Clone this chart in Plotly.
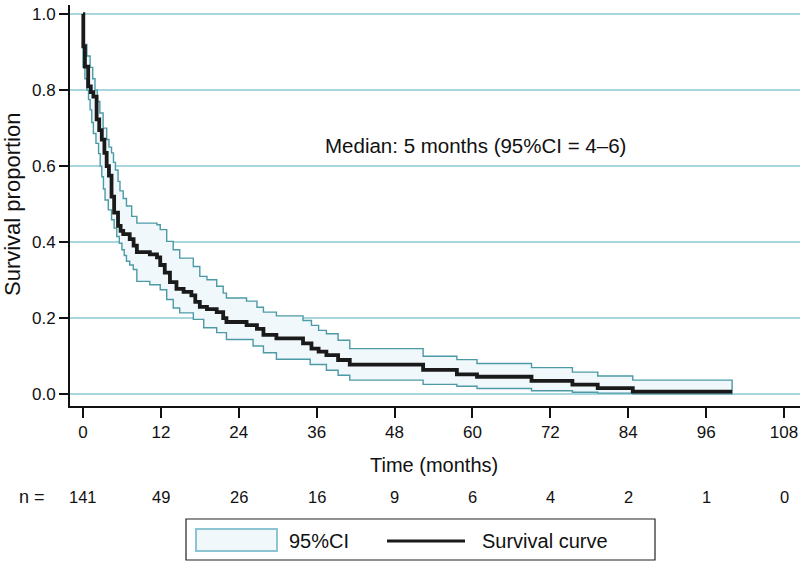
import plotly.graph_objects as go

# ---- data ----
surv_t = [0, 0.05, 0.3, 0.8, 1.2, 1.6, 2.1, 2.5, 2.9, 3.3, 3.65, 4.0, 4.4, 4.8, 5.4, 5.8,
          6.2, 7.2, 7.8, 8.3, 10.3, 11.4, 11.9, 12.6, 13.4, 14.4, 15.5, 16.7, 17.3, 18.0,
          19.1, 20.6, 21.6, 22.1, 25.2, 26.8, 27.8, 29.8, 33.9, 35.2, 36.3, 37.5, 39.3,
          41.1, 52.4, 57.6, 60.7, 69.1, 75.4, 79.3, 84.7, 100]
surv_s = [1.0, 0.915, 0.862, 0.81, 0.795, 0.783, 0.723, 0.695, 0.67, 0.635, 0.60, 0.575,
          0.52, 0.478, 0.443, 0.43, 0.421, 0.408, 0.391, 0.374, 0.368, 0.36, 0.34, 0.32,
          0.295, 0.277, 0.269, 0.26, 0.243, 0.23, 0.224, 0.216, 0.2, 0.19, 0.182, 0.172,
          0.156, 0.147, 0.134, 0.12, 0.112, 0.103, 0.09, 0.078, 0.064, 0.052, 0.046,
          0.035, 0.025, 0.016, 0.007, 0.007]

upper_t = [0, 0.15, 0.6, 1.1, 1.5, 1.85, 2.2, 2.6, 3.1, 3.65, 4.0, 4.4, 4.7, 5.0, 5.4,
           5.7, 6.2, 6.7, 7.5, 8.3, 11.4, 11.9, 12.9, 13.9, 14.9, 17.0, 18.0, 19.1, 20.6,
           21.6, 22.1, 25.2, 26.8, 27.8, 29.8, 33.9, 35.2, 36.3, 37.5, 39.3, 41.1, 52.4,
           57.6, 60.7, 69.1, 75.4, 79.3, 84.7, 100]
upper_s = [0.95, 0.92, 0.89, 0.86, 0.83, 0.80, 0.77, 0.74, 0.70, 0.67, 0.65, 0.635, 0.61,
           0.59, 0.56, 0.535, 0.515, 0.495, 0.468, 0.45, 0.446, 0.433, 0.402, 0.38, 0.358,
           0.336, 0.31, 0.301, 0.284, 0.266, 0.253, 0.245, 0.229, 0.216, 0.206, 0.194,
           0.181, 0.168, 0.159, 0.142, 0.12, 0.1, 0.091, 0.081, 0.07, 0.058, 0.048, 0.037,
           0.037]

lower_t = [0, 0.3, 0.6, 0.85, 1.1, 1.35, 1.6, 2.0, 2.4, 2.65, 2.9, 3.15, 3.4, 3.9, 4.4,
           4.8, 5.2, 5.6, 6.0, 6.35, 6.7, 7.2, 7.75, 8.3, 10.3, 11.9, 12.9, 13.9, 14.9,
           17.0, 18.6, 20.6, 22.1, 26.2, 27.8, 29.8, 35.0, 37.5, 39.3, 41.1, 52.4, 57.6,
           60.7, 69.1, 75.4, 79.3, 84.7, 100]
lower_s = [0.86, 0.83, 0.80, 0.775, 0.748, 0.715, 0.686, 0.66, 0.633, 0.60, 0.572, 0.54,
           0.511, 0.485, 0.459, 0.437, 0.415, 0.397, 0.38, 0.365, 0.35, 0.34, 0.328, 0.297,
           0.288, 0.275, 0.249, 0.227, 0.214, 0.197, 0.175, 0.162, 0.144, 0.127, 0.109,
           0.092, 0.078, 0.063, 0.05, 0.037, 0.026, 0.021, 0.015, 0.009, 0.005, 0.003,
           0.001, 0.001]

tick_months = [0, 12, 24, 36, 48, 60, 72, 84, 96, 108]
n_at_risk = [141, 49, 26, 16, 9, 6, 4, 2, 1, 0]
y_ticks = [0.0, 0.2, 0.4, 0.6, 0.8, 1.0]

# ---- helpers ----
def steps(t, v):
    xs, ys = [t[0]], [v[0]]
    for i in range(1, len(t)):
        xs += [t[i], t[i]]
        ys += [v[i - 1], v[i]]
    return xs, ys

FONT = "Liberation Sans, Arial, sans-serif"
TEAL = "#4c9aa6"
GRID = "#a9d5de"
FILL = "#f1f8fc"
INK = "#111111"

# plot area in pixels: left 70, right 800, top 5, bottom 406
L, R, T, B = 70, 800, 5, 406
def px(x):
    return (x - L) / (R - L)
def py(y):
    return (B - y) / (B - T)

ux, uy = steps(upper_t, upper_s)
lx, ly = steps(lower_t, lower_s)
poly_x = ux + lx[::-1] + [ux[0]]
poly_y = uy + ly[::-1] + [uy[0]]

fig = go.Figure()
fig.add_trace(go.Scatter(x=poly_x, y=poly_y, mode="lines", fill="toself",
                         fillcolor=FILL, line=dict(color=TEAL, width=1.4),
                         hoverinfo="skip", showlegend=False))
fig.add_trace(go.Scatter(x=surv_t, y=surv_s, mode="lines", line_shape="hv",
                         line=dict(color="#1a1a1a", width=3.8), showlegend=False))

def note(x, y, text, size, xref="paper", yref="paper", xanchor="center", angle=0):
    return dict(x=x, y=y, xref=xref, yref=yref, text=text, showarrow=False,
                xanchor=xanchor, yanchor="middle", textangle=angle,
                font=dict(family=FONT, size=size, color=INK))

annotations = [
    note(60.4, 0.655, "Median: 5 months (95%CI = 4\u20136)", 20.5, xref="x", yref="y"),
    note(px(434), py(465), "Time (months)", 20),
    note(px(12), py(205), "Survival proportion", 22, angle=-90),
    note(px(32), py(497), "n =", 18),
    note(px(287), py(541), "95%CI", 20, xanchor="left"),
    note(px(480), py(541), "Survival curve", 20, xanchor="left"),
]
for m, n in zip(tick_months, n_at_risk):
    annotations.append(note(m, py(497), str(n), 16.5, xref="x"))

shapes = [
    dict(type="rect", xref="paper", yref="paper", x0=px(186), x1=px(655),
         y0=py(519), y1=py(560), line=dict(color="#222", width=1.2), fillcolor="white"),
    dict(type="rect", xref="paper", yref="paper", x0=px(196), x1=px(277),
         y0=py(529), y1=py(551), line=dict(color="#8cc5d1", width=2), fillcolor=FILL),
    dict(type="line", xref="paper", yref="paper", x0=px(387), x1=px(465),
         y0=py(541), y1=py(541), line=dict(color="#1a1a1a", width=3)),
]

fig.update_layout(
    width=800, height=561,
    margin=dict(l=L, r=800 - R, t=T, b=561 - B),
    paper_bgcolor="white", plot_bgcolor="white",
    font=dict(family=FONT, color=INK),
    annotations=annotations, shapes=shapes, showlegend=False,
    xaxis=dict(range=[-2.0, 110.46], tickvals=tick_months, ticks="outside", ticklen=10,
               tickwidth=1.5, tickcolor=INK, showline=True, linecolor=INK,
               linewidth=1.8, showgrid=False, zeroline=False,
               tickfont=dict(family=FONT, size=17, color=INK)),
    yaxis=dict(range=[-0.031, 1.024], tickvals=y_ticks, tickformat=".1f", ticks="outside",
               ticklen=9, tickwidth=1.5, tickcolor=INK, showline=True,
               linecolor=INK, linewidth=1.8, showgrid=True, gridcolor=GRID,
               gridwidth=1.6, zeroline=False,
               tickfont=dict(family=FONT, size=17, color=INK)),
)

fig.write_html("out.html")
